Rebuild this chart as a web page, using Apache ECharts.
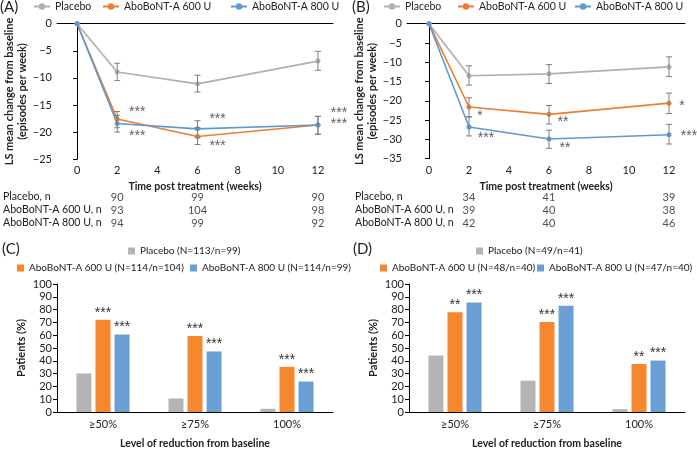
<!DOCTYPE html>
<html><head><meta charset="utf-8">
<script src="https://cdn.jsdelivr.net/npm/echarts@6/dist/echarts.min.js"></script>
<style>html,body{margin:0;padding:0;background:#fff}#c{width:697px;height:450px}</style>
</head><body><div id="c"></div>
<script>
// ---------- data ----------
const weeks = [0, 2, 6, 12];
const weekTicks = [0, 2, 4, 6, 8, 10, 12];
const nWeeks = [2, 6, 12];
const seriesNames = ['Placebo', 'AboBoNT-A 600 U', 'AboBoNT-A 800 U'];
const rowNames = ['Placebo, n', 'AboBoNT-A 600 U, n', 'AboBoNT-A 800 U, n'];

// Panel A
const A_placebo = [0, -8.9, -11.1, -6.9];
const A_600 = [0, -17.6, -20.8, -18.7];
const A_800 = [0, -18.4, -19.4, -18.7];
const A_placebo_hi = [null, -7.3, -9.5, -5.1];
const A_placebo_lo = [null, -10.5, -12.6, -8.6];
const A_600_hi = [null, -16.2, -19.2, -17.1];
const A_600_lo = [null, -19.2, -22.3, -20.4];
const A_800_hi = [null, -16.9, -17.9, -17.1];
const A_800_lo = [null, -20.0, -21.0, -20.4];
const A_starX = [3.0, 3.0, 7.0, 7.0, 13.05, 13.05];
const A_starY = [-15.8, -20.1, -17.1, -22.1, -16.0, -18.0];
const A_starT = ['***', '***', '***', '***', '***', '***'];
const A_n_placebo = [90, 99, 90];
const A_n_600 = [93, 104, 98];
const A_n_800 = [94, 99, 92];

// Panel B
const B_placebo = [0, -13.5, -13.0, -11.2];
const B_600 = [0, -21.6, -23.5, -20.6];
const B_800 = [0, -26.8, -29.9, -28.8];
const B_placebo_hi = [null, -10.9, -10.6, -8.6];
const B_placebo_lo = [null, -15.9, -15.5, -13.7];
const B_600_hi = [null, -19.2, -21.2, -18.0];
const B_600_lo = [null, -24.1, -26.0, -23.3];
const B_800_hi = [null, -24.2, -27.6, -26.1];
const B_800_lo = [null, -29.1, -32.3, -31.2];
const B_starX = [2.55, 2.85, 6.7, 6.8, 12.65, 13.0];
const B_starY = [-23.1, -29.0, -24.8, -31.6, -20.7, -28.5];
const B_starT = ['*', '***', '**', '**', '*', '***'];
const B_n_placebo = [34, 41, 39];
const B_n_600 = [39, 40, 38];
const B_n_800 = [42, 40, 46];

// Panel C
const reductionCats = ['\u226550%', '\u226575%', '100%'];
const C_names = ['Placebo (N=113/n=99)', 'AboBoNT-A 600 U (N=114/n=104)', 'AboBoNT-A 800 U (N=114/n=99)'];
const C_placebo = [30.1, 10.5, 2.5];
const C_600 = [72, 59.3, 35.3];
const C_800 = [60.5, 47.3, 23.8];
const C_600_stars = ['***', '***', '***'];
const C_800_stars = ['***', '***', '***'];

// Panel D
const D_names = ['Placebo (N=49/n=41)', 'AboBoNT-A 600 U (N=48/n=40)', 'AboBoNT-A 800 U (N=47/n=40)'];
const D_placebo = [44.1, 24.5, 2.2];
const D_600 = [78, 70.3, 37.5];
const D_800 = [85.5, 83, 40.2];
const D_600_stars = ['**', '***', '**'];
const D_800_stars = ['***', '***', '***'];

// ---------- style ----------
const FONT = 'Lato';
const STARFONT = 'Liberation Sans';
const cGray = '#B0B0B0', cOrange = '#ED7D31', cBlue = '#5B9BD5';
const bGray = '#B4B4B4', bOrange = '#F5882F', bBlue = '#6A9FD4';
const errColor = '#7F7F7F';
const txt = '#222';

const minus = v => String(v).replace('-', '\u2212');

function errItem(params, api) {
  const x = api.value(0), hi = api.value(1), lo = api.value(2);
  const p1 = api.coord([x, hi]), p2 = api.coord([x, lo]);
  const w = 3;
  const st = {stroke: errColor, lineWidth: 1};
  return {type: 'group', children: [
    {type: 'line', shape: {x1: p1[0], y1: p1[1], x2: p2[0], y2: p2[1]}, style: st},
    {type: 'line', shape: {x1: p1[0] - w, y1: p1[1], x2: p1[0] + w, y2: p1[1]}, style: st},
    {type: 'line', shape: {x1: p2[0] - w, y1: p2[1], x2: p2[0] + w, y2: p2[1]}, style: st}
  ]};
}
function errData(hi, lo) {
  const out = [];
  weeks.forEach((w, i) => { if (hi[i] !== null) out.push([w, hi[i], lo[i]]); });
  return out;
}
function lineSeries(name, vals, color, idx) {
  return {type: 'line', name, xAxisIndex: idx, yAxisIndex: idx,
    data: weeks.map((w, i) => [w, vals[i]]),
    symbol: 'circle', symbolSize: 5, itemStyle: {color}, lineStyle: {color, width: 1.6},
    z: 3, animation: false};
}
function errSeries(hi, lo, idx) {
  return {type: 'custom', xAxisIndex: idx, yAxisIndex: idx, renderItem: errItem,
    data: errData(hi, lo), z: 4, silent: true, animation: false, clip: false};
}
function starSeries(xs, ys, ts, idx) {
  return {type: 'scatter', xAxisIndex: idx, yAxisIndex: idx, symbolSize: 0, clip: false,
    data: xs.map((x, i) => [x, ys[i], ts[i]]),
    label: {show: true, position: 'inside', offset: [0, 3], formatter: p => p.value[2], fontSize: 14,
      fontFamily: STARFONT, color: '#333'}, silent: true, animation: false};
}
function nSeries(vals, row, idx) {
  return {type: 'scatter', xAxisIndex: idx, yAxisIndex: idx, symbolSize: 0,
    data: nWeeks.map((w, i) => [w, row, vals[i]]),
    label: {show: true, position: 'inside', formatter: p => String(p.value[2]), fontSize: 11,
      fontFamily: FONT, color: txt}, silent: true, animation: false};
}
function barSeries(name, vals, color, idx, stars) {
  return {type: 'bar', name, xAxisIndex: idx, yAxisIndex: idx, data: vals,
    barWidth: 15, barGap: '27%', itemStyle: {color},
    label: stars ? {show: true, position: 'top', distance: 0, formatter: p => stars[p.dataIndex],
      fontSize: 14, fontFamily: STARFONT, color: '#333'} : {show: false},
    animation: false};
}

const axisLineBlack = {show: true, lineStyle: {color: '#000', width: 1}};

function lineX(idx, min, max) {
  return {type: 'value', gridIndex: idx, min, max,
    axisLine: axisLineBlack, axisTick: {show: false}, splitLine: {show: false},
    axisLabel: {customValues: weekTicks, fontSize: 11, fontFamily: FONT, color: txt, margin: 6},
    name: 'Time post treatment (weeks)', nameLocation: 'middle', nameGap: 22,
    nameTextStyle: {fontSize: 10.5, fontWeight: 'bold', fontFamily: FONT, color: txt}};
}
function lineY(idx, min) {
  return {type: 'value', gridIndex: idx, min, max: 0, interval: 5,
    axisLine: axisLineBlack, axisTick: {show: true, length: 4, lineStyle: {color: '#000'}},
    splitLine: {show: false},
    axisLabel: {formatter: minus, fontSize: 11, fontFamily: FONT, color: txt, margin: 5},
    name: 'LS mean change from baseline\n(episodes per week)', nameLocation: 'middle', nameGap: 26,
    nameTextStyle: {fontSize: 11, fontWeight: 'bold', fontFamily: FONT, color: txt, lineHeight: 13}};
}
function tableX(idx, min, max) {
  return {type: 'value', gridIndex: idx, min, max, show: false};
}
function tableY(idx, margin) {
  return {type: 'category', gridIndex: idx, data: rowNames, inverse: true,
    axisLine: {show: false}, axisTick: {show: false}, splitLine: {show: false},
    axisLabel: {interval: 0, align: 'left', margin, fontSize: 10.6, fontFamily: FONT, color: txt}};
}
function barX(idx) {
  return {type: 'category', gridIndex: idx, data: reductionCats,
    axisLine: axisLineBlack, axisTick: {show: false},
    axisLabel: {fontSize: 11, fontFamily: FONT, color: txt, margin: 7},
    name: 'Level of reduction from baseline', nameLocation: 'middle', nameGap: 26,
    nameTextStyle: {fontSize: 10.5, fontWeight: 'bold', fontFamily: FONT, color: txt}};
}
function barY(idx) {
  return {type: 'value', gridIndex: idx, min: 0, max: 100, interval: 10,
    axisLine: axisLineBlack, axisTick: {show: true, length: 4, lineStyle: {color: '#000'}},
    splitLine: {show: false},
    axisLabel: {fontSize: 11, fontFamily: FONT, color: txt, margin: 5},
    name: 'Patients (%)', nameLocation: 'middle', nameGap: 30,
    nameTextStyle: {fontSize: 11, fontWeight: 'bold', fontFamily: FONT, color: txt}};
}

const legendText = {fontSize: 10.5, fontFamily: FONT, color: txt};
const barLegendText = {fontSize: 10, fontFamily: FONT, color: txt};
function lineLegend(name, left) {
  return {data: [name], left, top: 1, itemWidth: 16, itemHeight: 8, itemGap: 0, textStyle: legendText,
    selectedMode: false, padding: 0};
}
function barLegend(name, left, top) {
  return {data: [name], left, top, icon: 'rect', itemWidth: 7, itemHeight: 7,
    textStyle: barLegendText, selectedMode: false, padding: 0};
}

const option = {
  backgroundColor: '#fff',
  animation: false,
  textStyle: {fontFamily: FONT},
  grid: [
    {left: 57, top: 23.7, width: 276, height: 135.5},
    {left: 407, top: 23.7, width: 278, height: 135},
    {left: 57, top: 190.5, width: 276, height: 39},
    {left: 407, top: 190.5, width: 278, height: 39},
    {left: 57, top: 284, width: 276, height: 136},
    {left: 409, top: 284, width: 276, height: 136}
  ],
  xAxis: [lineX(0, -1, 12.75), lineX(1, -1.1, 12.8), tableX(2, -1, 12.75), tableX(3, -1.1, 12.8), barX(4), barX(5)],
  yAxis: [lineY(0, -25), lineY(1, -35), tableY(2, 54), tableY(3, 52), barY(4), barY(5)],
  legend: [
    lineLegend(seriesNames[0], 33), lineLegend(seriesNames[1], 102), lineLegend(seriesNames[2], 230),
    lineLegend(seriesNames[0], 383), lineLegend(seriesNames[1], 457), lineLegend(seriesNames[2], 574),
    barLegend(C_names[0], 128, 246), barLegend(C_names[1], 17, 263), barLegend(C_names[2], 190, 263),
    barLegend(D_names[0], 476, 246), barLegend(D_names[1], 380, 263), barLegend(D_names[2], 537, 263)
  ],
  graphic: [
    {type: 'text', left: 0, top: 0, style: {text: '(A)', fontSize: 15, fontFamily: FONT, fill: txt}},
    {type: 'text', left: 352, top: 0, style: {text: '(B)', fontSize: 15, fontFamily: FONT, fill: txt}},
    {type: 'text', left: 2, top: 242, style: {text: '(C)', fontSize: 15, fontFamily: FONT, fill: txt}},
    {type: 'text', left: 353, top: 242, style: {text: '(D)', fontSize: 15, fontFamily: FONT, fill: txt}}
  ],
  series: [
    lineSeries(seriesNames[0], A_placebo, cGray, 0),
    lineSeries(seriesNames[1], A_600, cOrange, 0),
    lineSeries(seriesNames[2], A_800, cBlue, 0),
    errSeries(A_placebo_hi, A_placebo_lo, 0),
    errSeries(A_600_hi, A_600_lo, 0),
    errSeries(A_800_hi, A_800_lo, 0),
    starSeries(A_starX, A_starY, A_starT, 0),

    lineSeries(seriesNames[0], B_placebo, cGray, 1),
    lineSeries(seriesNames[1], B_600, cOrange, 1),
    lineSeries(seriesNames[2], B_800, cBlue, 1),
    errSeries(B_placebo_hi, B_placebo_lo, 1),
    errSeries(B_600_hi, B_600_lo, 1),
    errSeries(B_800_hi, B_800_lo, 1),
    starSeries(B_starX, B_starY, B_starT, 1),

    nSeries(A_n_placebo, rowNames[0], 2),
    nSeries(A_n_600, rowNames[1], 2),
    nSeries(A_n_800, rowNames[2], 2),
    nSeries(B_n_placebo, rowNames[0], 3),
    nSeries(B_n_600, rowNames[1], 3),
    nSeries(B_n_800, rowNames[2], 3),

    barSeries(C_names[0], C_placebo, bGray, 4, null),
    barSeries(C_names[1], C_600, bOrange, 4, C_600_stars),
    barSeries(C_names[2], C_800, bBlue, 4, C_800_stars),
    barSeries(D_names[0], D_placebo, bGray, 5, null),
    barSeries(D_names[1], D_600, bOrange, 5, D_600_stars),
    barSeries(D_names[2], D_800, bBlue, 5, D_800_stars)
  ]
};

const chart = echarts.init(document.getElementById('c'), null, {renderer: 'canvas'});
chart.setOption(option);
</script>
</body></html>
